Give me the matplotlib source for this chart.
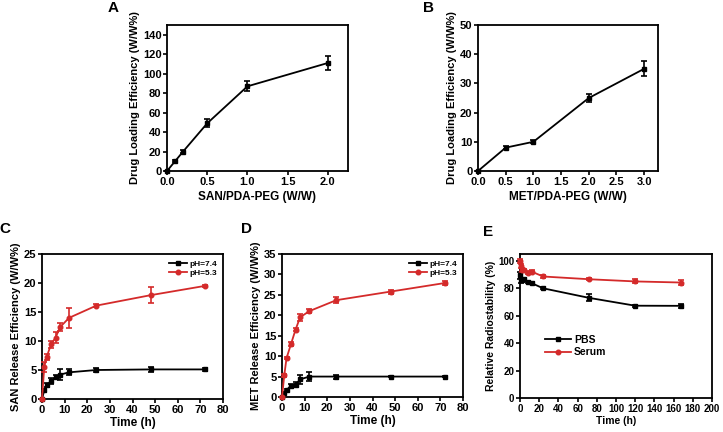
import matplotlib
matplotlib.use("Agg")
import matplotlib.pyplot as plt

plt.rcParams['font.family'] = ['Liberation Sans', 'DejaVu Sans']
plt.rcParams['font.weight'] = 'bold'

# A: SAN loading
a_x = [0, 0.1, 0.2, 0.5, 1.0, 2.0]
a_y = [0, 10, 20, 49, 87, 111]
a_err = [0, 1, 2, 4, 5, 7]

# B: MET loading
b_x = [0, 0.5, 1.0, 2.0, 3.0]
b_y = [0, 8, 10, 25, 35]
b_err = [0, 0.4, 0.5, 1.5, 2.5]

# C: SAN release
t_rel = [0, 1, 2, 4, 6, 8, 12, 24, 48, 72]
c_74 = [0, 1.5, 2.4, 3.1, 3.8, 4.2, 4.6, 5.0, 5.1, 5.1]
c_74_err = [0, 0.3, 0.3, 0.5, 0.4, 1.0, 0.5, 0.3, 0.4, 0.2]
c_53 = [0, 5.5, 7.2, 9.4, 10.6, 12.4, 14.0, 16.1, 17.9, 19.5]
c_53_err = [0, 0.8, 0.5, 0.6, 1.0, 0.7, 1.7, 0.2, 1.4, 0.2]

# D: MET release
d_74 = [0, 1.0, 1.7, 2.8, 3.0, 4.3, 5.0, 5.0, 5.0, 5.0]
d_74_err = [0, 0.2, 0.3, 0.5, 0.6, 1.2, 1.0, 0.5, 0.2, 0.2]
d_53 = [0, 5.3, 9.5, 13.0, 16.5, 19.5, 21.0, 23.7, 25.8, 27.9]
d_53_err = [0, 0.3, 0.3, 0.4, 0.4, 0.8, 0.5, 0.8, 0.5, 0.4]

# E: radiostability
t_stab = [0, 1, 2, 4, 8, 12, 24, 72, 120, 168]
e_pbs = [89.5, 85.7, 86.0, 86.5, 84.5, 83.8, 80.0, 73.0, 67.3, 67.2]
e_pbs_err = [2.5, 1.5, 1.0, 1.0, 0.8, 0.8, 0.8, 2.5, 0.8, 1.5]
e_serum = [100, 96.0, 93.4, 93.2, 91.5, 92.2, 88.6, 86.6, 85.0, 84.2]
e_serum_err = [1.5, 1.5, 1.5, 1.0, 0.8, 0.8, 0.8, 0.8, 1.5, 2.0]

RED = "#d42a2a"
W, H = 723, 432


def make_ax(fig, l, r, t, b):
    ax = fig.add_axes([l / W, 1 - b / H, (r - l) / W, (b - t) / H])
    for s in ax.spines.values():
        s.set_linewidth(1.3)
    ax.tick_params(direction="out", length=3, width=1.2, labelsize=8, pad=1)
    return ax


def series(ax, x, y, e, color, marker, label=None):
    c = ax.errorbar(x, y, yerr=e, color=color, marker=marker, markersize=3.3,
                    linewidth=1.3, elinewidth=1.2, capsize=2, capthick=1.2,
                    label=label, clip_on=False, zorder=3)
    return c.lines[0]


fig = plt.figure(figsize=(W / 100, H / 100), dpi=100)

# A
ax = make_ax(fig, 167, 348, 25, 171)
series(ax, a_x, a_y, a_err, "black", "s")
ax.set_xlim(0, 2.25)
ax.set_ylim(0, 150)
ax.set_xticks([0, 0.5, 1.0, 1.5, 2.0])
ax.set_xticklabels(["0.0", "0.5", "1.0", "1.5", "2.0"])
ax.set_yticks(range(0, 141, 20))
ax.set_xlabel("SAN/PDA-PEG (W/W)", fontsize=8.5, fontweight="bold", labelpad=3)
ax.set_ylabel("Drug Loading Efficiency (W/W%)", fontsize=8, fontweight="bold", labelpad=2)
fig.text(113 / W, 1 - 8 / H, "A", fontsize=11, fontweight="bold", ha="center", va="center")

# B
ax = make_ax(fig, 478, 658, 25, 171)
series(ax, b_x, b_y, b_err, "black", "s")
ax.set_xlim(0, 3.25)
ax.set_ylim(0, 50)
ax.set_xticks([0, 0.5, 1.0, 1.5, 2.0, 2.5, 3.0])
ax.set_xticklabels(["0.0", "0.5", "1.0", "1.5", "2.0", "2.5", "3.0"])
ax.set_yticks(range(0, 51, 10))
ax.set_xlabel("MET/PDA-PEG (W/W)", fontsize=8.5, fontweight="bold", labelpad=3)
ax.set_ylabel("Drug Loading Efficiency (W/W%)", fontsize=8, fontweight="bold", labelpad=2)
fig.text(428 / W, 1 - 8 / H, "B", fontsize=11, fontweight="bold", ha="center", va="center")

# C
ax = make_ax(fig, 42, 223, 254, 399)
h1 = series(ax, t_rel, c_74, c_74_err, "black", "s", "pH=7.4")
h2 = series(ax, t_rel, c_53, c_53_err, RED, "o", "pH=5.3")
ax.set_xlim(0, 80)
ax.set_ylim(0, 25)
ax.set_xticks(range(0, 81, 10))
ax.set_yticks(range(0, 26, 5))
ax.set_xlabel("Time (h)", fontsize=8.5, fontweight="bold", labelpad=2)
ax.set_ylabel("SAN Release Efficiency (W/W%)", fontsize=8, fontweight="bold", labelpad=2)
ax.legend([h1, h2], ["pH=7.4", "pH=5.3"], loc="upper right", frameon=False,
          prop={"size": 6, "weight": "bold"}, handlelength=2.2,
          handletextpad=0.3, labelspacing=0.2, borderaxespad=0.3)
fig.text(5 / W, 1 - 229 / H, "C", fontsize=11, fontweight="bold", ha="center", va="center")

# D
ax = make_ax(fig, 282, 463, 254, 397)
h1 = series(ax, t_rel, d_74, d_74_err, "black", "s", "pH=7.4")
h2 = series(ax, t_rel, d_53, d_53_err, RED, "o", "pH=5.3")
ax.set_xlim(0, 80)
ax.set_ylim(0, 35)
ax.set_xticks(range(0, 81, 10))
ax.set_yticks(range(0, 36, 5))
ax.set_xlabel("Time (h)", fontsize=8.5, fontweight="bold", labelpad=2)
ax.set_ylabel("MET Release Efficiency (W/W%)", fontsize=8, fontweight="bold", labelpad=2)
ax.legend([h1, h2], ["pH=7.4", "pH=5.3"], loc="upper right", frameon=False,
          prop={"size": 6, "weight": "bold"}, handlelength=2.2,
          handletextpad=0.3, labelspacing=0.2, borderaxespad=0.3)
fig.text(246 / W, 1 - 229 / H, "D", fontsize=11, fontweight="bold", ha="center", va="center")

# E
ax = make_ax(fig, 520, 712, 254, 398)
h1 = series(ax, t_stab, e_pbs, e_pbs_err, "black", "s", "PBS")
h2 = series(ax, t_stab, e_serum, e_serum_err, RED, "o", "Serum")
ax.set_xlim(0, 200)
ax.set_ylim(0, 105)
ax.set_xticks(range(0, 201, 20))
ax.set_yticks(range(0, 101, 20))
ax.tick_params(labelsize=7)
ax.set_xlabel("Time (h)", fontsize=7.5, fontweight="bold", labelpad=2)
ax.set_ylabel("Relative Radiostability (%)", fontsize=7.5, fontweight="bold", labelpad=2)
ax.legend([h1, h2], ["PBS", "Serum"], loc="center left", bbox_to_anchor=(0.08, 0.36),
          frameon=False, prop={"size": 7.5, "weight": "bold"}, handlelength=2.5,
          handletextpad=0.3, labelspacing=0.2)
fig.text(488 / W, 1 - 232 / H, "E", fontsize=11, fontweight="bold", ha="center", va="center")

fig.savefig("out.png", dpi=100)
